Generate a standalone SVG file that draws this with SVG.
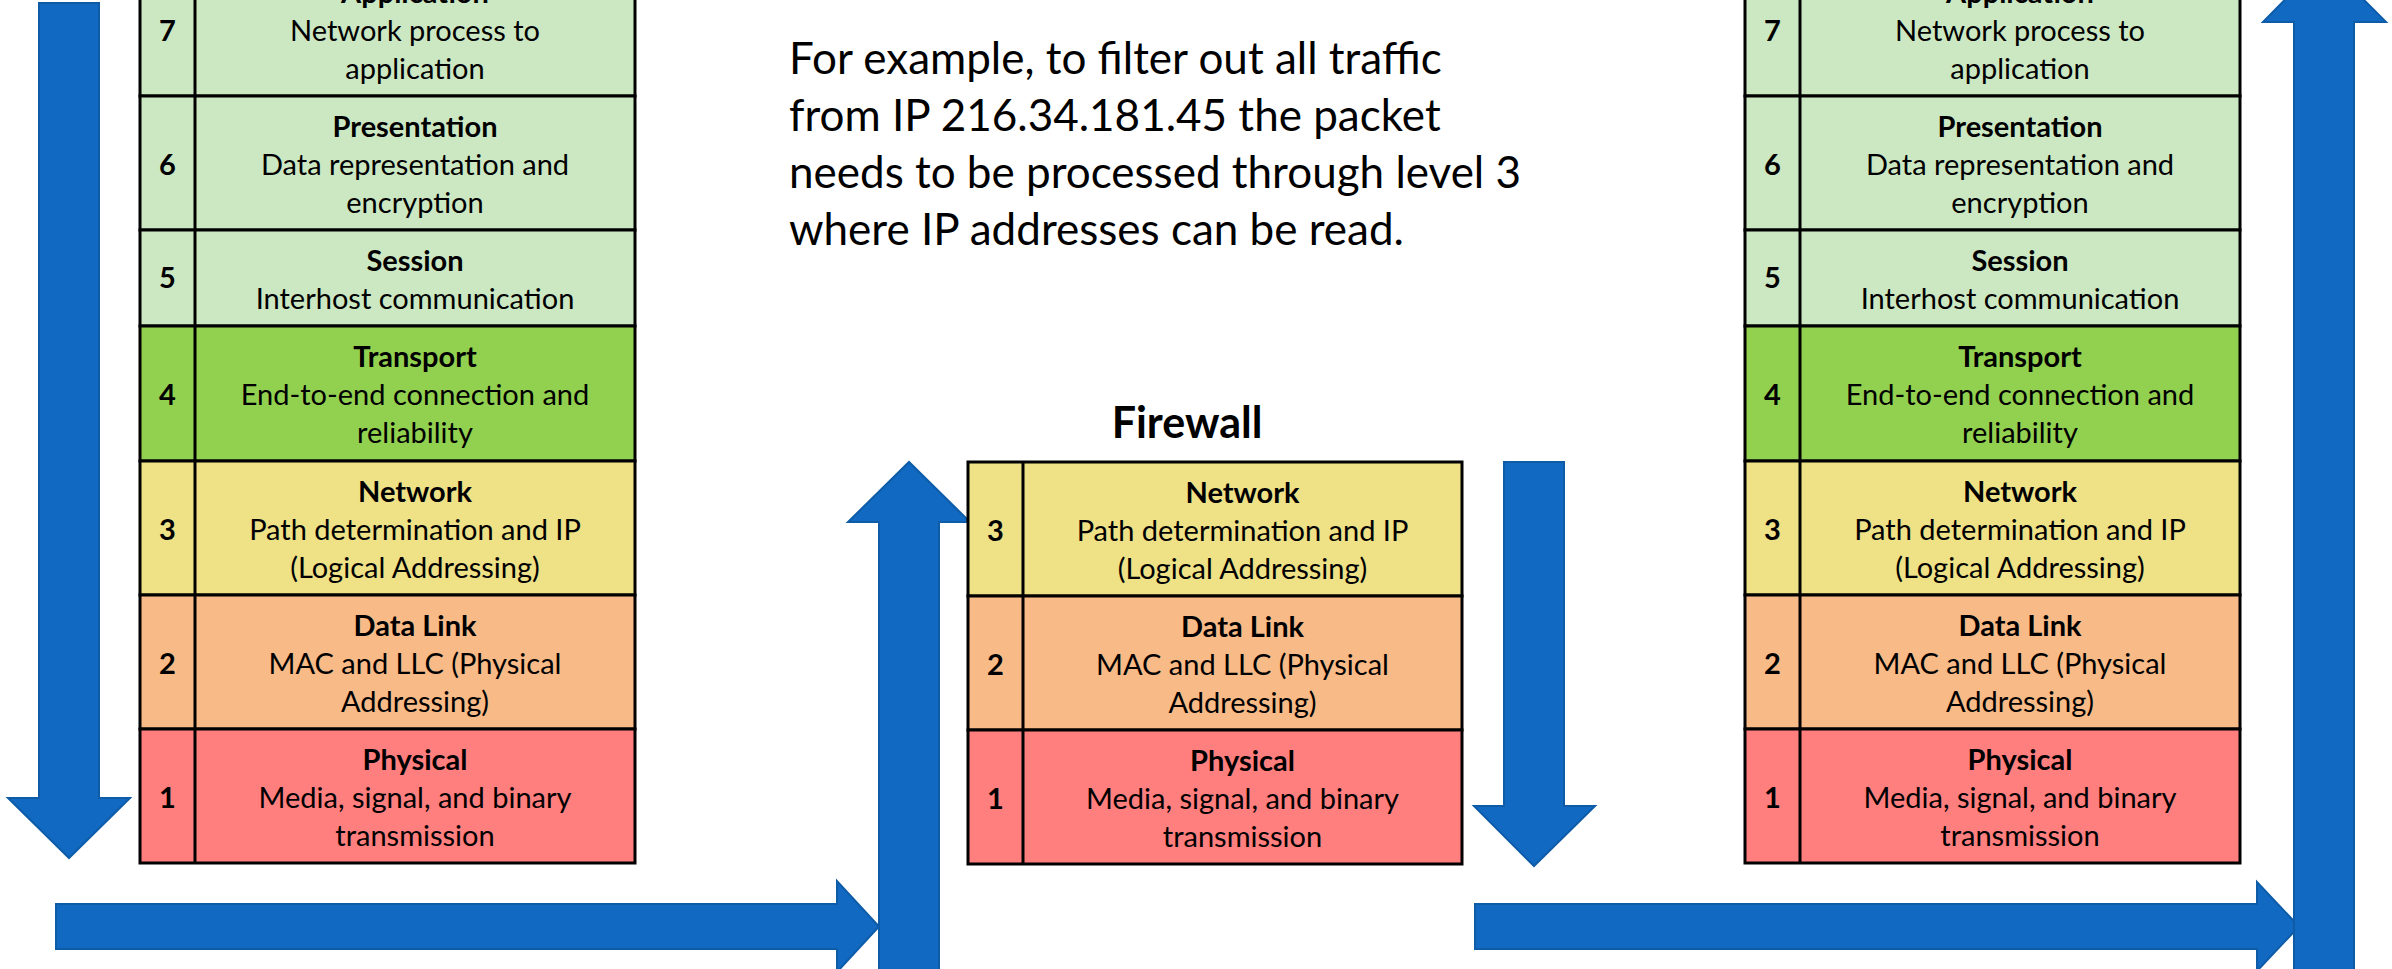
<svg xmlns="http://www.w3.org/2000/svg" width="2392" height="969" viewBox="0 0 2392 969">
<style>
.arrow{fill:#1169C2;stroke:#0E5CA8;stroke-width:2}
.cell{stroke:#000;stroke-width:3}
.div{stroke:#000;stroke-width:3}
.lg{fill:#CCE8C3}.g{fill:#92D050}.y{fill:#EEE186}.o{fill:#F8BA86}.r{fill:#FF7E7E}
text{font-family:Lato,"Open Sans","Liberation Sans",sans-serif;fill:#000}
.t{font-size:29px;text-anchor:middle}
.b{font-size:29px;font-weight:bold;text-anchor:middle}
.p{font-size:44px}
.fw{font-size:43px;font-weight:bold;text-anchor:middle}
</style>
<rect width="2392" height="969" fill="#fff"/>
<g id="connectors">
<path class="arrow" d="M39,3 H99 V798 H130 L69,858 L8,798 H39 Z"/>
<path class="arrow" d="M56,904 H837 V881 L879,926.5 L837,972 V949 H56 Z"/>
<path class="arrow" d="M879,975 V522 H848 L909,462 L970,522 H939 V975 Z"/>
<path class="arrow" d="M1504,462 H1564 V806 H1595 L1534,866 L1474,806 H1504 Z"/>
<path class="arrow" d="M1475,904 H2257 V882 L2299,926.5 L2257,971 V949 H1475 Z"/>
<path class="arrow" d="M2294,975 V22 H2263 L2324,-40 L2386,22 H2354 V975 Z"/>
</g>
<text id="note" class="p" x="789" y="74">For example, to filter out all traffic<tspan x="789" y="131">from IP 216.34.181.45 the packet</tspan><tspan x="789" y="188">needs to be processed through level 3</tspan><tspan x="789" y="245">where IP addresses can be read.</tspan></text>

<g id="left-stack">
<g id="left-l7"><rect class="cell lg" x="140" y="-38" width="495" height="134"/><text class="b" x="167.5" y="41">7</text><text class="b" x="415" y="3">Application</text><text class="t" x="415" y="41">Network process to</text><text class="t" x="415" y="79">application</text></g>
<g id="left-l6"><rect class="cell lg" x="140" y="96" width="495" height="134"/><text class="b" x="167.5" y="175">6</text><text class="b" x="415" y="137">Presentation</text><text class="t" x="415" y="175">Data representation and</text><text class="t" x="415" y="213">encryption</text></g>
<g id="left-l5"><rect class="cell lg" x="140" y="230" width="495" height="96"/><text class="b" x="167.5" y="288">5</text><text class="b" x="415" y="271">Session</text><text class="t" x="415" y="309">Interhost communication</text></g>
<g id="left-l4"><rect class="cell g" x="140" y="326" width="495" height="135"/><text class="b" x="167.5" y="405">4</text><text class="b" x="415" y="367">Transport</text><text class="t" x="415" y="405">End-to-end connection and</text><text class="t" x="415" y="443">reliability</text></g>
<g id="left-l3"><rect class="cell y" x="140" y="461" width="495" height="134"/><text class="b" x="167.5" y="540">3</text><text class="b" x="415" y="502">Network</text><text class="t" x="415" y="540">Path determination and IP</text><text class="t" x="415" y="578">(Logical Addressing)</text></g>
<g id="left-l2"><rect class="cell o" x="140" y="595" width="495" height="134"/><text class="b" x="167.5" y="674">2</text><text class="b" x="415" y="636">Data Link</text><text class="t" x="415" y="674">MAC and LLC (Physical</text><text class="t" x="415" y="712">Addressing)</text></g>
<g id="left-l1"><rect class="cell r" x="140" y="729" width="495" height="134"/><text class="b" x="167.5" y="808">1</text><text class="b" x="415" y="770">Physical</text><text class="t" x="415" y="808">Media, signal, and binary</text><text class="t" x="415" y="846">transmission</text></g>
<line class="div" x1="195" y1="-40" x2="195" y2="863"/>
</g>

<g id="firewall">
<text class="fw" x="1187" y="438">Firewall</text>
<g id="fw-l3"><rect class="cell y" x="968" y="462" width="494" height="134"/><text class="b" x="995.5" y="541">3</text><text class="b" x="1242.5" y="503">Network</text><text class="t" x="1242.5" y="541">Path determination and IP</text><text class="t" x="1242.5" y="579">(Logical Addressing)</text></g>
<g id="fw-l2"><rect class="cell o" x="968" y="596" width="494" height="134"/><text class="b" x="995.5" y="675">2</text><text class="b" x="1242.5" y="637">Data Link</text><text class="t" x="1242.5" y="675">MAC and LLC (Physical</text><text class="t" x="1242.5" y="713">Addressing)</text></g>
<g id="fw-l1"><rect class="cell r" x="968" y="730" width="494" height="134"/><text class="b" x="995.5" y="809">1</text><text class="b" x="1242.5" y="771">Physical</text><text class="t" x="1242.5" y="809">Media, signal, and binary</text><text class="t" x="1242.5" y="847">transmission</text></g>
<line class="div" x1="1023" y1="462" x2="1023" y2="864"/>
</g>

<g id="right-stack">
<g id="right-l7"><rect class="cell lg" x="1745" y="-38" width="495" height="134"/><text class="b" x="1772.5" y="41">7</text><text class="b" x="2020" y="3">Application</text><text class="t" x="2020" y="41">Network process to</text><text class="t" x="2020" y="79">application</text></g>
<g id="right-l6"><rect class="cell lg" x="1745" y="96" width="495" height="134"/><text class="b" x="1772.5" y="175">6</text><text class="b" x="2020" y="137">Presentation</text><text class="t" x="2020" y="175">Data representation and</text><text class="t" x="2020" y="213">encryption</text></g>
<g id="right-l5"><rect class="cell lg" x="1745" y="230" width="495" height="96"/><text class="b" x="1772.5" y="288">5</text><text class="b" x="2020" y="271">Session</text><text class="t" x="2020" y="309">Interhost communication</text></g>
<g id="right-l4"><rect class="cell g" x="1745" y="326" width="495" height="135"/><text class="b" x="1772.5" y="405">4</text><text class="b" x="2020" y="367">Transport</text><text class="t" x="2020" y="405">End-to-end connection and</text><text class="t" x="2020" y="443">reliability</text></g>
<g id="right-l3"><rect class="cell y" x="1745" y="461" width="495" height="134"/><text class="b" x="1772.5" y="540">3</text><text class="b" x="2020" y="502">Network</text><text class="t" x="2020" y="540">Path determination and IP</text><text class="t" x="2020" y="578">(Logical Addressing)</text></g>
<g id="right-l2"><rect class="cell o" x="1745" y="595" width="495" height="134"/><text class="b" x="1772.5" y="674">2</text><text class="b" x="2020" y="636">Data Link</text><text class="t" x="2020" y="674">MAC and LLC (Physical</text><text class="t" x="2020" y="712">Addressing)</text></g>
<g id="right-l1"><rect class="cell r" x="1745" y="729" width="495" height="134"/><text class="b" x="1772.5" y="808">1</text><text class="b" x="2020" y="770">Physical</text><text class="t" x="2020" y="808">Media, signal, and binary</text><text class="t" x="2020" y="846">transmission</text></g>
<line class="div" x1="1800" y1="-40" x2="1800" y2="863"/>
</g>
</svg>
